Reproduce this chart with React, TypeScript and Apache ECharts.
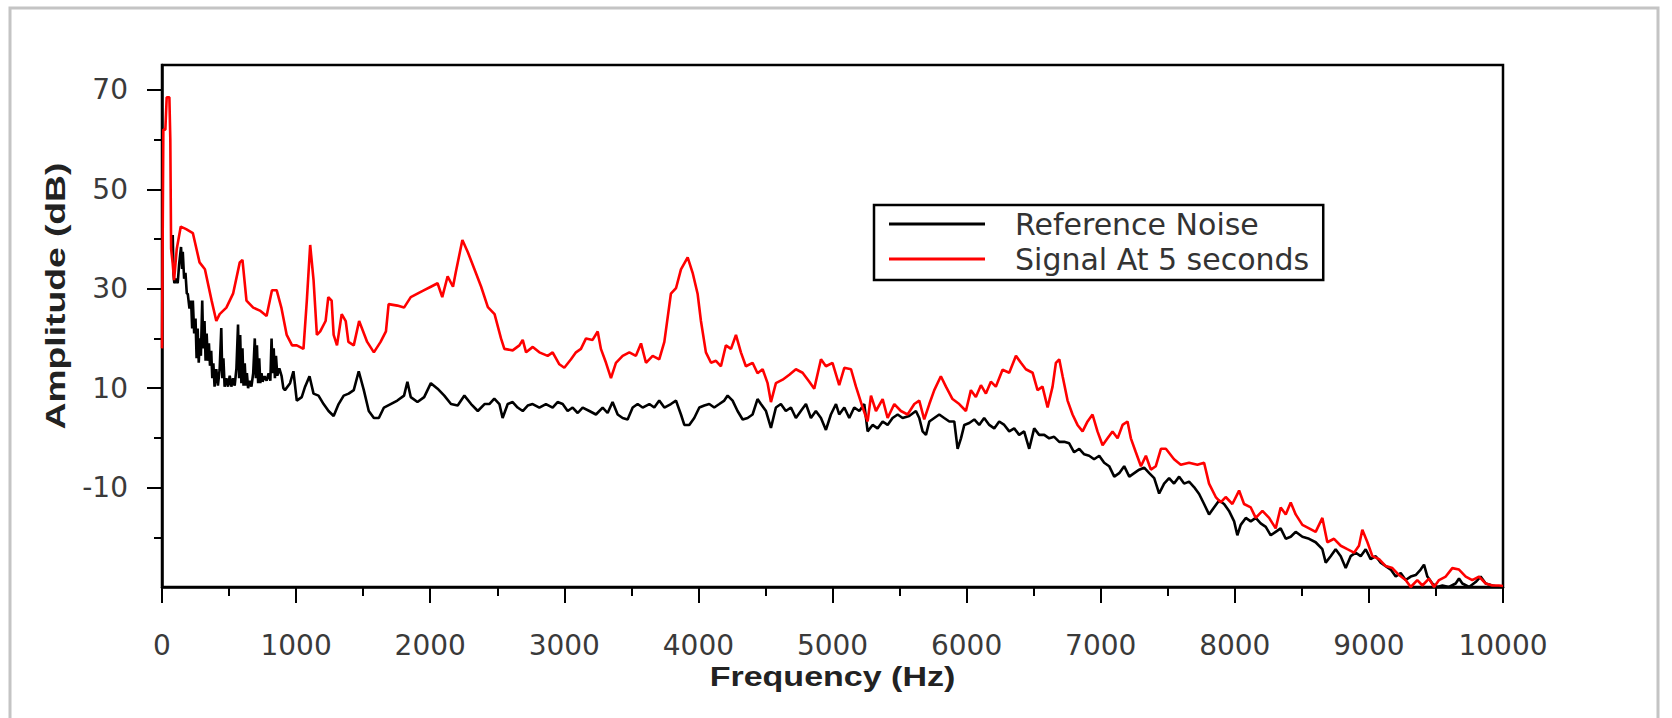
import React, { useEffect, useRef } from "react";
import * as echarts from "echarts";

// ---------- data ----------
const signalFreq = [
  0, 10, 25, 35, 55, 62, 68, 80, 90, 110, 140, 180, 230, 280, 320, 370, 405, 430, 480, 530,
  580, 600, 630, 680, 730, 780, 820, 855, 890, 930, 970, 1005, 1055, 1080, 1105, 1130, 1155, 1180, 1220, 1240,
  1265, 1280, 1305, 1340, 1370, 1390, 1430, 1470, 1490, 1530, 1580, 1630, 1670, 1690, 1755, 1805, 1855, 1905, 1955, 2005,
  2055, 2090, 2130, 2170, 2190, 2240, 2280, 2330, 2380, 2430, 2480, 2528, 2553, 2615, 2665, 2690, 2715, 2765, 2814, 2876,
  2913, 2963, 3000, 3050, 3087, 3124, 3162, 3211, 3249, 3273, 3311, 3348, 3385, 3435, 3485, 3534, 3572, 3609, 3659, 3708,
  3746, 3795, 3833, 3870, 3920, 3957, 3994, 4019, 4056, 4094, 4131, 4168, 4205, 4243, 4280, 4317, 4354, 4404, 4441, 4479,
  4516, 4541, 4578, 4628, 4678, 4727, 4777, 4827, 4864, 4914, 4951, 5000, 5050, 5088, 5138, 5175, 5225, 5262, 5287, 5324,
  5374, 5411, 5461, 5510, 5560, 5610, 5647, 5684, 5722, 5759, 5808, 5846, 5895, 5945, 5995, 6032, 6069, 6107, 6144, 6181,
  6218, 6268, 6318, 6368, 6405, 6442, 6492, 6529, 6566, 6604, 6641, 6666, 6691, 6716, 6753, 6790, 6827, 6865, 6902, 6939,
  6976, 7014, 7051, 7088, 7126, 7163, 7200, 7225, 7262, 7300, 7337, 7374, 7411, 7449, 7486, 7547, 7597, 7659, 7721, 7771,
  7808, 7858, 7895, 7932, 7982, 8032, 8069, 8119, 8156, 8206, 8256, 8305, 8342, 8380, 8417, 8454, 8504, 8554, 8603, 8653,
  8690, 8740, 8790, 8839, 8889, 8926, 8951, 8989, 9026, 9076, 9125, 9175, 9225, 9274, 9312, 9361, 9399, 9448, 9486, 9523,
  9573, 9622, 9672, 9722, 9771, 9821, 9871, 9920, 9970, 10000,
];
const signalAmp = [
  18, 62, 62, 68.5, 68.5, 60, 38, 35, 31.7, 38, 42.5, 42, 41.2, 35.3, 33.9, 27.6, 23.5, 24.9, 26.2, 29,
  35.3, 35.8, 27.6, 26.2, 25.6, 24.5, 29.7, 29.7, 26.2, 20.7, 18.6, 18.6, 17.9, 27.6, 38.8, 31.8, 20.7, 21.4, 23.5, 28.3,
  27.6, 20.7, 18.6, 24.9, 23.5, 19.3, 18.6, 23.5, 22.1, 19.3, 17.2, 19.3, 21.4, 26.9, 26.6, 26.2, 28.3, 29, 29.7, 30.4,
  31.1, 28.3, 32.5, 30.4, 33.2, 39.8, 37.4, 33.9, 30.4, 26.3, 24.9, 20, 17.9, 17.6, 18.6, 19.7, 17.2, 18.3, 17.2, 16.5,
  17.2, 14.8, 14.1, 15.8, 17.2, 17.9, 20, 19.7, 21.4, 17.9, 15.1, 12, 15.1, 16.5, 17.2, 16.5, 19, 15.1, 16.5, 15.8,
  19.3, 29, 30.1, 33.9, 36.3, 33.2, 29, 23.5, 17.2, 15.1, 15.5, 14.4, 18.6, 17.9, 20.7, 17.2, 14.4, 15.1, 13, 13.8,
  11, 7.2, 11, 11.7, 12.7, 13.8, 13.1, 11.3, 9.9, 15.8, 14.4, 15.1, 10.6, 14.1, 13.8, 10.3, 6.1, 3.3, 8.5, 5.4,
  7.8, 4, 6.8, 5.4, 4.7, 6.8, 7.5, 3.7, 6.8, 9.6, 12.4, 10.3, 7.8, 6.8, 5.4, 9.6, 8.2, 10.6, 8.9, 11.3,
  10.3, 13.7, 13.1, 16.5, 15.1, 13.8, 13.1, 9.6, 10.3, 6.1, 10.3, 15.1, 15.8, 12.4, 7.5, 4.7, 2.6, 1.3, 3.3, 4.7,
  1.3, -1.5, -0.1, 1.3, -0.1, 2.6, 3.3, -0.1, -2.9, -5.7, -3.6, -6.4, -5.7, -2.2, -2.2, -4.3, -5.4, -5, -5.4, -5,
  -9.2, -11.9, -13, -11.9, -13.3, -10.6, -13.3, -14, -16.1, -14.7, -16.1, -18.2, -14, -15.4, -13, -15.4, -17.5, -18.2, -18.9, -16.1,
  -21, -20.3, -21.7, -22.4, -23.1, -21.7, -18.5, -21, -23.8, -24.4, -25.8, -26.2, -27.6, -28.6, -30, -28.6, -29.7, -28.3, -30, -28.6,
  -27.9, -26.2, -26.5, -27.9, -28.6, -27.9, -29.3, -29.7, -29.7, -29.8,
];

const noiseFreq = [
  80, 86, 92, 105, 117, 128, 142, 150, 155, 165, 175, 185, 192, 205, 217, 225, 230, 240, 250, 258,
  266, 274, 282, 290, 300, 308, 317, 325, 333, 342, 350, 358, 367, 375, 383, 392, 405, 417, 430, 442,
  450, 458, 467, 480, 492, 505, 517, 530, 542, 555, 567, 575, 583, 592, 600, 608, 617, 625, 633, 642,
  655, 667, 680, 692, 700, 708, 717, 725, 733, 742, 750, 765, 780, 795, 808, 817, 825, 833, 842, 850,
  860, 875, 892, 905, 917, 955, 980, 1005, 1042, 1067,
  1100, 1130, 1167, 1205, 1242, 1280, 1317, 1355, 1392, 1430, 1467, 1505, 1542, 1580, 1617, 1655, 1705, 1755, 1805, 1830,
  1855, 1905, 1955, 2005, 2055, 2105, 2155, 2205, 2255, 2305, 2355, 2405, 2441, 2478, 2516, 2540, 2578, 2615, 2652, 2690,
  2727, 2764, 2814, 2863, 2913, 2950, 2988, 3025, 3062, 3100, 3137, 3187, 3236, 3286, 3323, 3360, 3398, 3435, 3472, 3510,
  3547, 3584, 3634, 3671, 3708, 3746, 3795, 3833, 3870, 3895, 3932, 3969, 4007, 4044, 4081, 4118, 4156, 4193, 4218, 4255,
  4292, 4330, 4367, 4404, 4441, 4466, 4504, 4541, 4578, 4615, 4652, 4690, 4727, 4764, 4802, 4839, 4876, 4914, 4951, 4988,
  5026, 5050, 5088, 5125, 5162, 5200, 5237, 5262, 5299, 5336, 5374, 5411, 5448, 5486, 5523, 5572, 5622, 5647, 5672, 5697,
  5722, 5759, 5796, 5833, 5871, 5908, 5933, 5958, 5983, 6020, 6057, 6094, 6131, 6169, 6206, 6243, 6281, 6318, 6355, 6392,
  6429, 6467, 6504, 6541, 6579, 6616, 6653, 6691, 6728, 6765, 6802, 6840, 6877, 6914, 6951, 6989, 7026, 7063, 7101, 7138,
  7175, 7213, 7250, 7287, 7324, 7362, 7399, 7436, 7473, 7510, 7547, 7585, 7622, 7659, 7696, 7734, 7771, 7808, 7845, 7883,
  7920, 7957, 7995, 8019, 8044, 8082, 8119, 8156, 8193, 8231, 8268, 8305, 8342, 8380, 8417, 8454, 8504, 8554, 8603, 8653,
  8678, 8715, 8752, 8790, 8827, 8864, 8902, 8939, 8976, 9013, 9051, 9088, 9125, 9163, 9200, 9237, 9274, 9312, 9349, 9386,
  9411, 9436, 9473, 9510, 9548, 9597, 9647, 9672, 9697, 9747, 9796, 9833, 9871, 9920, 9970,
];
const noiseAmp = [
  40.8, 33, 31.1, 32, 31.1, 35, 38.4, 34, 37.4, 32, 33.2, 29, 29, 26, 27.6, 22, 27.6, 21, 24, 16,
  22, 15.1, 20, 16.5, 27.6, 18, 23.5, 15.5, 21, 15.5, 19, 14.5, 17.5, 12, 15, 10.3, 13.8, 10.5, 13.8, 22.1,
  12, 16, 10.3, 12, 10.3, 12.5, 10.3, 12, 10.5, 14, 22.8, 12, 20.7, 11, 18, 10.5, 15, 10.5, 13, 10,
  11.5, 10.3, 13, 20, 12, 18.6, 11, 16, 11, 13, 11.3, 12.4, 11.5, 13, 11.5, 20, 13, 18, 12, 16.5,
  12.5, 14, 12.4, 10, 9.6, 11, 13.4, 7.5, 8.2, 10.3,
  12.4, 8.9, 8.5, 6.8, 5.4, 4.4, 6.8, 8.5, 8.9, 9.6, 13.4, 9.6, 5.4, 4, 4, 6.1, 6.8, 7.5, 8.5, 11.3,
  8.2, 7.2, 8.2, 11, 9.9, 8.5, 6.8, 6.5, 8.5, 6.8, 5.4, 6.8, 6.8, 7.9, 6.8, 4, 6.8, 7.2, 6.1, 5.4,
  6.5, 6.8, 6.1, 6.8, 6.1, 7.2, 6.8, 5.4, 6.1, 5, 6.1, 5.4, 4.7, 6.1, 5, 7.2, 4.7, 4, 3.7, 6.1,
  6.8, 6.1, 6.8, 6.1, 7.5, 6.1, 6.8, 7.5, 4.7, 2.6, 2.6, 4, 6.1, 6.5, 6.8, 6.1, 6.8, 7.5, 8.5, 7.5,
  5.4, 3.7, 4, 4.7, 7.8, 6.8, 5.4, 2, 6.1, 6.8, 5.4, 6.1, 4, 5.4, 6.8, 4, 5.4, 4, 1.6, 4.7,
  6.8, 4.7, 6.1, 4, 6.1, 5.4, 6.8, 1.3, 2.6, 1.9, 3.3, 2.6, 4, 4.7, 4, 4.4, 5.4, 4, 1.3, 0.6,
  3.3, 4, 4.7, 4, 3.3, 3.3, -2.2, -0.1, 2.6, 3, 3.7, 2.6, 4, 2.6, 1.9, 3.3, 2.6, 1.3, 1.9, 0.6,
  1.3, -2.2, 1.9, 0.6, 0.6, -0.1, 0.2, -0.8, -0.8, -1.1, -2.9, -2.2, -3.3, -3.6, -4.3, -3.6, -5, -5.7, -7.8, -7.1,
  -5.7, -7.8, -7.1, -6.4, -6, -7.1, -8.1, -11.2, -9.2, -8.1, -9.2, -7.8, -9.2, -8.8, -9.9, -11.3, -13.3, -15.4, -14, -12.6,
  -13.3, -14.7, -16.8, -19.6, -17.5, -16.1, -16.8, -16.1, -17.2, -17.9, -19.6, -18.9, -18.2, -20.3, -19.9, -18.9, -19.9, -20.3, -21, -22.4,
  -25.1, -23.8, -22.4, -23.8, -26.2, -23.8, -23.1, -23.8, -22.4, -24.4, -23.8, -25.1, -25.8, -26.5, -27.9, -27.2, -28.6, -27.9, -27.6, -26.5,
  -25.5, -27.9, -29.3, -30, -29.7, -30, -29.3, -28.3, -29.3, -30, -29, -27.9, -29.3, -29.7, -30,
];

const seriesNames = ["Reference Noise", "Signal At 5 seconds"];
const xTitle = "Frequency (Hz)";
const yTitle = "Amplitude (dB)";
const xMin = 0;
const xMax = 10000;
const xStep = 1000;
const yMin = -30;
const yMax = 75;
const yMajorFrom = -10;
const yMajorTo = 70;
const yMinorFrom = -20;
const yMinorTo = 60;
const yStep = 20;

// ---------- layout ----------
const W = 1672;
const H = 718;
const PL = 162;
const PR = 1503;
const PT = 65;
const PB = 587;
const TICK_FONT = "'DejaVu Sans', 'Liberation Sans', sans-serif";
const TITLE_FONT = "'Liberation Sans', Arial, Helvetica, sans-serif";

export default function App() {
  const ref = useRef<HTMLDivElement>(null);

  useEffect(() => {
    document.body.style.margin = "0";
    if (!ref.current) return;
    const chart = echarts.init(ref.current, null, { renderer: "svg" });

    const k = (PB - PT) / (yMax - yMin);
    const plotW = PR - PL;
    const majTop = PT + (yMax - yMajorTo) * k;
    const minTop = PT + (yMax - yMinorTo) * k;

    const noise = noiseFreq.map((f, i) => [f, noiseAmp[i]]);
    const signal = signalFreq.map((f, i) => [f, signalAmp[i]]);

    const tickStyle = { color: "#000", width: 2 };

    chart.setOption({
      animation: false,
      backgroundColor: "#fff",
      textStyle: { fontFamily: TICK_FONT },
      grid: [
        {
          left: PL, top: PT, width: plotW, height: PB - PT,
          show: true, borderColor: "#000", borderWidth: 2.5, backgroundColor: "transparent",
        },
        { left: PL, top: majTop, width: plotW, height: (yMajorTo - yMajorFrom) * k },
        { left: PL, top: minTop, width: plotW, height: (yMinorTo - yMinorFrom) * k },
      ],
      xAxis: [
        {
          gridIndex: 0, type: "value", min: xMin, max: xMax, interval: xStep,
          axisLine: { show: true, onZero: false, lineStyle: { color: "#000", width: 2.5 } },
          axisTick: { show: true, length: 16, lineStyle: tickStyle },
          minorTick: { show: true, splitNumber: 2, length: 9, lineStyle: tickStyle },
          splitLine: { show: false },
          axisLabel: {
            margin: 44, fontSize: 28, color: "#3a3a3a", fontFamily: TICK_FONT,
            formatter: (v: number) => String(v),
          },
        },
        { gridIndex: 1, type: "value", min: xMin, max: xMax, show: false },
        { gridIndex: 2, type: "value", min: xMin, max: xMax, show: false },
      ],
      yAxis: [
        {
          gridIndex: 0, type: "value", min: yMin, max: yMax,
          axisLine: { show: true, onZero: false, lineStyle: { color: "#000", width: 2.5 } },
          axisTick: { show: false }, axisLabel: { show: false }, splitLine: { show: false },
        },
        {
          gridIndex: 1, type: "value", min: yMajorFrom, max: yMajorTo, interval: yStep,
          axisLine: { show: false, onZero: false },
          axisTick: { show: true, length: 15, lineStyle: tickStyle },
          axisLabel: { margin: 34, fontSize: 28, color: "#3a3a3a", fontFamily: TICK_FONT },
          splitLine: { show: false },
        },
        {
          gridIndex: 2, type: "value", min: yMinorFrom, max: yMinorTo, interval: yStep,
          axisLine: { show: false, onZero: false },
          axisTick: { show: true, length: 8, lineStyle: tickStyle },
          axisLabel: { show: false }, splitLine: { show: false },
        },
      ],
      legend: {
        orient: "vertical", left: 874, top: 205,
        padding: [4, 14, 6, 15], itemGap: 5, itemWidth: 96, itemHeight: 3,
        icon: "rect",
        borderColor: "#000", borderWidth: 2.5, backgroundColor: "#fff",
        textStyle: { fontSize: 30, color: "#333", fontFamily: TICK_FONT, padding: [0, 0, 0, 25] },
        data: seriesNames,
      },
      graphic: [
        {
          type: "rect", silent: true, z: -10,
          shape: { x: 10, y: 8, width: 1648, height: 720 },
          style: { fill: "none", stroke: "#c4c4c4", lineWidth: 3 },
        },
        {
          type: "text", x: 56, y: 296, rotation: Math.PI / 2, scaleX: 1.38,
          style: {
            text: yTitle, fontSize: 27, fontWeight: "bold", fill: "#222",
            fontFamily: TITLE_FONT, align: "center", verticalAlign: "middle",
          },
        },
        {
          type: "text", x: (PL + PR) / 2, y: 677, scaleX: 1.26,
          style: {
            text: xTitle, fontSize: 27, fontWeight: "bold", fill: "#222",
            fontFamily: TITLE_FONT, align: "center", verticalAlign: "middle",
          },
        },
      ],
      series: [
        {
          type: "line", name: seriesNames[0], xAxisIndex: 0, yAxisIndex: 0,
          data: noise, symbol: "none", clip: true,
          lineStyle: { color: "#000", width: 2.6 }, itemStyle: { color: "#000" },
        },
        {
          type: "line", name: seriesNames[1], xAxisIndex: 0, yAxisIndex: 0,
          data: signal, symbol: "none", clip: true,
          lineStyle: { color: "#ff0000", width: 2.6 }, itemStyle: { color: "#ff0000" },
        },
      ],
    });

    return () => chart.dispose();
  }, []);

  return <div ref={ref} style={{ width: W, height: H }} />;
}
